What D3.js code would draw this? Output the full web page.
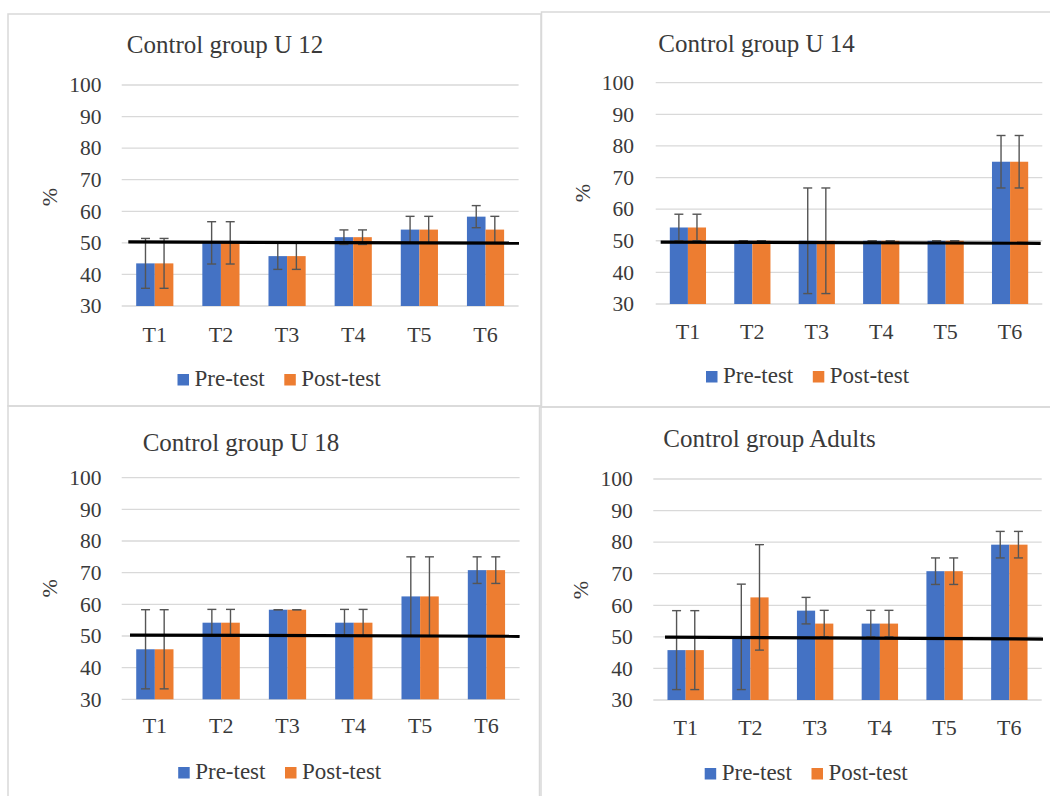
<!DOCTYPE html>
<html>
<head>
<meta charset="utf-8">
<script src="https://cdn.jsdelivr.net/npm/d3@7"></script>
<style>
  html, body { margin: 0; padding: 0; background: #ffffff; }
  svg { display: block; }
  text { font-family: "Liberation Serif", "Times New Roman", serif; fill: #3a3a3a; }
</style>
</head>
<body>
<svg id="chart" width="1050" height="796"></svg>
<script>
// ---------------- data ----------------
const categories = ["T1", "T2", "T3", "T4", "T5", "T6"];
const yTicks = [30, 40, 50, 60, 70, 80, 90, 100];
const seriesNames = ["Pre-test", "Post-test"];
const panelTitles = ["Control group U 12", "Control group U 14", "Control group U 18", "Control group Adults"];
const yLabel = "%";

const u12Pre     = [43.5, 50.0, 45.8, 51.8, 54.2, 58.3];
const u12PreErr  = [7.9, 6.7, 4.2, 2.3, 4.2, 3.5];
const u12Post    = [43.5, 50.0, 45.8, 51.8, 54.2, 54.2];
const u12PostErr = [7.9, 6.7, 4.2, 2.3, 4.2, 4.2];

const u14Pre     = [54.2, 50.0, 50.0, 50.0, 50.0, 75.0];
const u14PreErr  = [4.2, 0, 16.7, 0, 0, 8.3];
const u14Post    = [54.2, 50.0, 50.0, 50.0, 50.0, 75.0];
const u14PostErr = [4.2, 0, 16.7, 0, 0, 8.3];

const u18Pre     = [45.8, 54.2, 58.3, 54.2, 62.5, 70.8];
const u18PreErr  = [12.5, 4.2, 0, 4.2, 12.5, 4.2];
const u18Post    = [45.8, 54.2, 58.3, 54.2, 62.5, 70.8];
const u18PostErr = [12.5, 4.2, 0, 4.2, 12.5, 4.2];

const adultPre     = [45.8, 50.0, 58.3, 54.2, 70.8, 79.2];
const adultPreErr  = [12.5, 16.7, 4.2, 4.2, 4.2, 4.2];
const adultPost    = [45.8, 62.5, 54.2, 54.2, 70.8, 79.2];
const adultPostErr = [12.5, 16.7, 4.2, 4.2, 4.2, 4.2];

// hand-drawn 50% reference line: value at left end, value at right end
const refLineLeft  = [50.28, 49.6, 50.3, 49.9];
const refLineRight = [49.9, 49.2, 49.9, 49.3];

// ---------------- layout ----------------
const colors = ["#4472C4", "#ED7D31"];
const panels = [
  { box: [8, 14, 541, 406],  left: 121.7, right: 518.6, top: 85,    bottom: 306,   titleX: 126.8, titleY: 53.3,  tickRight: 101.4, catY: 341.7, legX: 177.5, legY: 386, pctX: 49,  pctY: 197,   refX0: 128.3, refX1: 519 },
  { box: [541.5, 12, 1052, 407], left: 655.7, right: 1042.3, top: 82.7, bottom: 304, titleX: 658.3, titleY: 51.7,  tickRight: 634,   catY: 339.3, legX: 706,   legY: 383, pctX: 582, pctY: 193,   refX0: 660.7, refX1: 1040.7 },
  { box: [8, 406, 541, 800], left: 121.7, right: 519.6, top: 477.7, bottom: 699.3, titleX: 142.7, titleY: 450.7, tickRight: 101.4, catY: 733.3, legX: 178.2, legY: 779, pctX: 49,  pctY: 588.3, refX0: 130,   refX1: 519.6 },
  { box: [539.5, 407, 1052, 800], left: 653.3, right: 1041.7, top: 479, bottom: 700, titleX: 663.3, titleY: 446.7, tickRight: 632.7, catY: 735,   legX: 704.7, legY: 780, pctX: 580, pctY: 590,   refX0: 665,   refX1: 1043 }
];
const panelData = [
  [[u12Pre, u12PreErr], [u12Post, u12PostErr]],
  [[u14Pre, u14PreErr], [u14Post, u14PostErr]],
  [[u18Pre, u18PreErr], [u18Post, u18PostErr]],
  [[adultPre, adultPreErr], [adultPost, adultPostErr]]
];

const svg = d3.select("#chart");

// panel frames
panels.forEach(p => {
  svg.append("rect")
    .attr("x", p.box[0]).attr("y", p.box[1])
    .attr("width", p.box[2] - p.box[0]).attr("height", p.box[3] - p.box[1])
    .attr("fill", "none").attr("stroke", "#d9d9d9").attr("stroke-width", 1.5);
});

panels.forEach((p, pi) => {
  const g = svg.append("g");
  const y = d3.scaleLinear().domain([30, 100]).range([p.bottom, p.top]);
  const pad = 0.438;
  const x0 = d3.scaleBand().domain(categories).range([p.left, p.right])
    .paddingInner(pad).paddingOuter(pad / 2);
  const x1 = d3.scaleBand().domain(seriesNames).range([0, x0.bandwidth()]).padding(0);

  // gridlines
  g.selectAll("line.grid").data(yTicks).enter().append("line")
    .attr("x1", p.left).attr("x2", p.right)
    .attr("y1", d => y(d)).attr("y2", d => y(d))
    .attr("stroke", "#d9d9d9").attr("stroke-width", 1.3);

  // y tick labels
  g.selectAll("text.ytick").data(yTicks).enter().append("text")
    .attr("x", p.tickRight).attr("y", d => y(d)).attr("dy", "0.34em")
    .attr("text-anchor", "end").attr("font-size", 21.5)
    .text(d => d);

  // bars
  const rows = [];
  categories.forEach((c, ci) => {
    seriesNames.forEach((s, si) => {
      rows.push({ c, s, si, v: panelData[pi][si][0][ci], e: panelData[pi][si][1][ci] });
    });
  });
  g.selectAll("rect.bar").data(rows).enter().append("rect")
    .attr("x", d => x0(d.c) + x1(d.s))
    .attr("width", x1.bandwidth())
    .attr("y", d => y(d.v))
    .attr("height", d => y(30) - y(d.v))
    .attr("fill", d => colors[d.si]);

  // error bars
  const cap = 4.5;
  const eb = g.selectAll("g.err").data(rows).enter().append("g");
  const cx = d => x0(d.c) + x1(d.s) + x1.bandwidth() / 2;
  eb.append("line")
    .attr("x1", cx).attr("x2", cx)
    .attr("y1", d => y(d.v + d.e)).attr("y2", d => y(d.v - d.e))
    .attr("stroke", "#555555").attr("stroke-width", 1.4);
  eb.append("line")
    .attr("x1", d => cx(d) - cap).attr("x2", d => cx(d) + cap)
    .attr("y1", d => y(d.v + d.e)).attr("y2", d => y(d.v + d.e))
    .attr("stroke", "#555555").attr("stroke-width", 1.4);
  eb.append("line")
    .attr("x1", d => cx(d) - cap).attr("x2", d => cx(d) + cap)
    .attr("y1", d => y(d.v - d.e)).attr("y2", d => y(d.v - d.e))
    .attr("stroke", "#555555").attr("stroke-width", 1.4);

  // reference line at ~50%
  g.append("line")
    .attr("x1", p.refX0).attr("x2", p.refX1)
    .attr("y1", y(refLineLeft[pi])).attr("y2", y(refLineRight[pi]))
    .attr("stroke", "#000000").attr("stroke-width", 3.2);

  // category labels
  g.selectAll("text.cat").data(categories).enter().append("text")
    .attr("x", d => x0(d) + x0.bandwidth() / 2).attr("y", p.catY)
    .attr("text-anchor", "middle").attr("font-size", 22)
    .text(d => d);

  // title
  g.append("text").attr("x", p.titleX).attr("y", p.titleY)
    .attr("font-size", 25).text(panelTitles[pi]);

  // y label
  g.append("text")
    .attr("transform", `translate(${p.pctX},${p.pctY}) rotate(-90)`)
    .attr("text-anchor", "middle").attr("dy", "0.35em")
    .attr("font-size", 22).text(yLabel);

  // legend
  const legOffsets = [0, 106.8];
  seriesNames.forEach((s, si) => {
    const lx = p.legX + legOffsets[si];
    g.append("rect").attr("x", lx).attr("y", p.legY - 12)
      .attr("width", 11.5).attr("height", 11.5).attr("fill", colors[si]);
    g.append("text").attr("x", lx + 17).attr("y", p.legY)
      .attr("font-size", 23).text(s);
  });
});
</script>
</body>
</html>
